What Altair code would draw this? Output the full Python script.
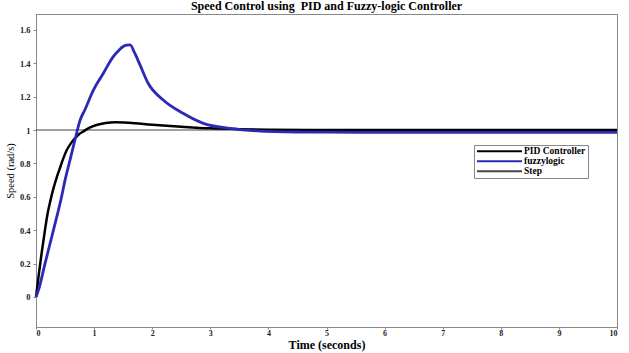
import altair as alt
import pandas as pd

# PID controller response
t_pid = [0, 0.05, 0.1, 0.15, 0.2, 0.25, 0.3, 0.36, 0.41, 0.47, 0.53, 0.6, 0.67, 0.74,
         0.81, 0.9, 1.04, 1.2, 1.36, 1.6, 2.0, 2.5, 3.0, 3.5, 4.0, 5, 6, 7, 8, 9, 10]
v_pid = [0, 0.14, 0.27, 0.39, 0.5, 0.58, 0.65, 0.72, 0.77, 0.83, 0.88, 0.92, 0.95, 0.975,
         0.99, 1.01, 1.03, 1.042, 1.046, 1.043, 1.032, 1.02, 1.01, 1.005, 1.002, 1.0,
         1.0, 1.0, 1.0, 1.0, 1.0]

# Fuzzy-logic controller response
t_fz = [0, 0.05, 0.155, 0.30, 0.44, 0.50, 0.585, 0.67, 0.76, 0.84, 0.99, 1.16, 1.33,
        1.42, 1.50, 1.56, 1.62, 1.7, 1.79, 1.93, 2.19, 2.53, 2.88, 3.34, 3.8, 4.5, 5,
        6, 7, 8, 9, 10]
v_fz = [0, 0.05, 0.2, 0.40, 0.60, 0.70, 0.82, 0.94, 1.06, 1.12, 1.24, 1.34, 1.44,
        1.475, 1.50, 1.508, 1.51, 1.46, 1.39, 1.28, 1.18, 1.10, 1.04, 1.01, 0.995,
        0.988, 0.987, 0.986, 0.986, 0.986, 0.986, 0.986]

# Step reference
t_step = [0, 10]
v_step = [1, 1]

series = ["PID Controller", "fuzzylogic", "Step"]
colors = ["#000000", "#2a2ab4", "#444444"]
widths = [2.5, 2.8, 1.2]
x_ticks = [0, 1, 2, 3, 4, 5, 6, 7, 8, 9, 10]
y_ticks = [0, 0.2, 0.4, 0.6, 0.8, 1, 1.2, 1.4, 1.6]

df = pd.concat([
    pd.DataFrame({"t": t_pid, "v": v_pid, "s": series[0]}),
    pd.DataFrame({"t": t_fz, "v": v_fz, "s": series[1]}),
    pd.DataFrame({"t": t_step, "v": v_step, "s": series[2]}),
])

FONT = "Liberation Serif"

legend = alt.Legend(
    title=None, orient="none", legendX=438, legendY=131,
    fillColor="white", strokeColor="#888888", padding=2,
    symbolType="M-1,0L1,0", symbolSize=2025, symbolStrokeWidth=2,
    labelFont=FONT, labelFontWeight="bold", labelFontSize=9.5, labelColor="black",
    clipHeight=8.5, rowPadding=0, labelOffset=1, symbolOffset=0,
)

x_enc = alt.X("t:Q", scale=alt.Scale(domain=[0, 10], nice=False),
              axis=alt.Axis(values=x_ticks, title="Time (seconds)", grid=False,
                            labelFont=FONT, labelFontWeight="bold", labelFontSize=8,
                            labelColor="#222", titleFont=FONT, titleFontWeight="bold",
                            titleFontSize=12, titleColor="black", tickSize=2, labelPadding=0,
                            domainColor="#888", tickColor="#888",
                            titleY=21, titleBaseline="alphabetic"))
y_enc = alt.Y("v:Q", scale=alt.Scale(domain=[-0.18, 1.695], nice=False, zero=False),
              axis=alt.Axis(values=y_ticks, format=".1~f", title="Speed (rad/s)", grid=False,
                            labelFont=FONT, labelFontWeight="bold", labelFontSize=8.5,
                            labelColor="#222", titleFont=FONT, titleFontWeight="normal",
                            titleFontSize=10.5, titleColor="black", tickSize=3, labelPadding=3,
                            domainColor="#888", tickColor="#888", titlePadding=4))
c_enc = alt.Color("s:N", scale=alt.Scale(domain=series, range=colors), legend=legend)

layers = []
for name, w in zip([series[2], series[0], series[1]], [widths[2], widths[0], widths[1]]):
    layers.append(
        alt.Chart(df).transform_filter(alt.datum.s == name)
        .mark_line(interpolate="monotone", strokeWidth=w)
        .encode(x=x_enc, y=y_enc, color=c_enc)
    )

chart = alt.layer(*layers).properties(
    width=581, height=313,
    title=alt.Title("Speed Control using\u00a0 PID and Fuzzy-logic Controller", font=FONT,
                    fontWeight="bold", fontSize=12, color="black", offset=1),
    padding={"left": 36, "top": 14, "right": 12, "bottom": 26},
    autosize="none",
).configure_view(stroke="#888888", strokeWidth=1)

chart.save("out.html", embed_options={"renderer": "svg", "actions": False})
